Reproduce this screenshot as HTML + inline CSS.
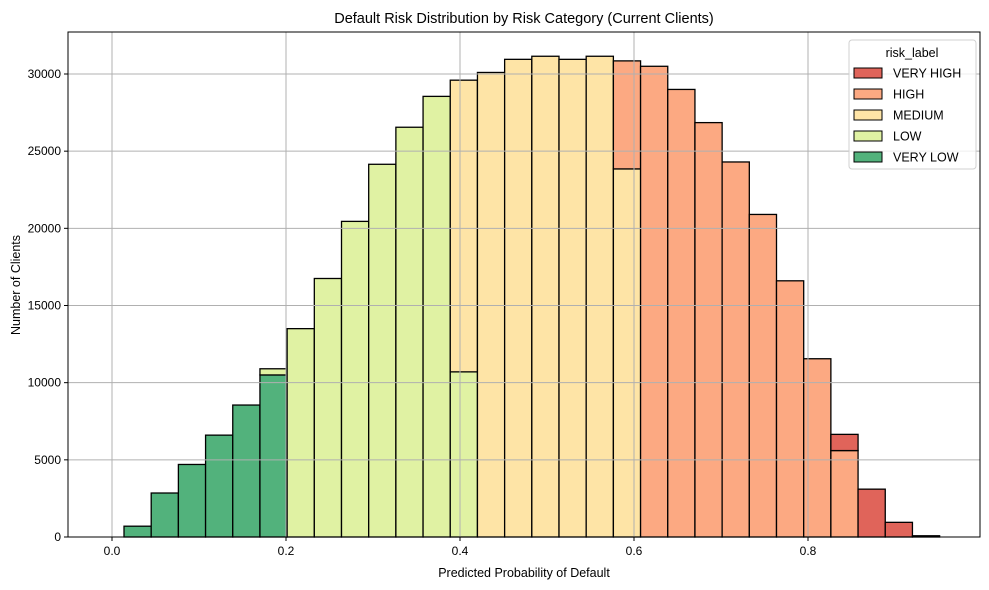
<!DOCTYPE html>
<html><head><meta charset="utf-8"><style>
body{margin:0;background:#fff;}
svg{display:block;font-family:"Liberation Sans","DejaVu Sans",sans-serif;}
</style></head><body>
<svg id="chart" width="989" height="590"></svg>
<script>
const binStart = 0.0138;
const binWidth = 0.03125;
const veryLow = [700,2850,4700,6600,8550,10500,0,0,0,0,0,0,0,0,0,0,0,0,0,0,0,0,0,0,0,0,0,0,0,0];
const low = [0,0,0,0,0,400,13500,16750,20450,24150,26550,28550,10700,0,0,0,0,0,0,0,0,0,0,0,0,0,0,0,0,0];
const medium = [0,0,0,0,0,0,0,0,0,0,0,0,18900,30100,30950,31150,30950,31150,23850,0,0,0,0,0,0,0,0,0,0,0];
const high = [0,0,0,0,0,0,0,0,0,0,0,0,0,0,0,0,0,0,7000,30500,29000,26850,24300,20900,16600,11550,5600,0,0,0];
const veryHigh = [0,0,0,0,0,0,0,0,0,0,0,0,0,0,0,0,0,0,0,0,0,0,0,0,0,0,1050,3100,950,80];
const xTicks = [0,0.2,0.4,0.6,0.8];
const xTickLabels = ["0.0","0.2","0.4","0.6","0.8"];
const yTicks = [0,5000,10000,15000,20000,25000,30000];
const seriesNames = ["VERY HIGH","HIGH","MEDIUM","LOW","VERY LOW"];

const NS="http://www.w3.org/2000/svg";
const svg=document.getElementById('chart');
const L=68,R=980,T=32,B=537;
const x=v=>112+v*870;
const y=v=>B-v*(463/30000);
function el(tag,attrs,parent){const e=document.createElementNS(NS,tag);for(const k in attrs)e.setAttribute(k,attrs[k]);(parent||svg).appendChild(e);return e;}

// bars
const stack=[[veryLow,'#52b27c','very-low'],[low,'#e0f2a3','low'],[medium,'#fee4a6','medium'],[high,'#fca982','high'],[veryHigh,'#e0645a','very-high']];
const bw=binWidth*870;
for(let i=0;i<veryLow.length;i++){
  let base=0;
  const x0=x(binStart+i*binWidth);
  stack.forEach(([arr,col,nm])=>{
    const v=arr[i];
    if(v>0){
      const r=el('rect',{x:x0,y:y(base+v),width:bw,height:y(base)-y(base+v),fill:col,stroke:'#000','stroke-width':1.3});
      
      
      base+=v;
    }
  });
}

// grid (drawn over bars)
xTicks.forEach((t,i)=>{
  const g=el('line',{x1:x(t),x2:x(t),y1:T,y2:B,stroke:'#b0b0b0','stroke-width':1});
  
  
});
yTicks.forEach(t=>{
  const g=el('line',{x1:L,x2:R,y1:y(t),y2:y(t),stroke:'#b0b0b0','stroke-width':1});
  
  
});

// axes frame
const fr=el('rect',{x:L,y:T,width:R-L,height:B-T,fill:'none',stroke:'#000','stroke-width':1});



xTicks.forEach((t,i)=>{
  el('line',{x1:x(t),x2:x(t),y1:B,y2:B+4,stroke:'#000'});
  const tx=el('text',{x:x(t),y:B+18,'text-anchor':'middle','font-size':12});
  tx.textContent=xTickLabels[i];
  
  
});
yTicks.forEach(t=>{
  el('line',{x1:L-4,x2:L,y1:y(t),y2:y(t),stroke:'#000'});
  const tx=el('text',{x:L-7,y:y(t)+4,'text-anchor':'end','font-size':12});
  tx.textContent=String(t);
  
  
});

let t=el('text',{x:(L+R)/2,y:23,'text-anchor':'middle','font-size':14.5});
t.textContent='Default Risk Distribution by Risk Category (Current Clients)';


t=el('text',{x:(L+R)/2,y:577,'text-anchor':'middle','font-size':12.5});
t.textContent='Predicted Probability of Default';


t=el('text',{x:0,y:0,'text-anchor':'middle','font-size':12.5,transform:'translate(20,285) rotate(-90)'});
t.textContent='Number of Clients';



// legend
const lg=el('g',{});


el('rect',{x:849,y:40,width:127,height:129,rx:3,fill:'#fff','fill-opacity':0.8,stroke:'#d0d0d0'},lg);
t=el('text',{x:912,y:57,'text-anchor':'middle','font-size':12.5},lg);
t.textContent='risk_label';


const legCols=['#e0645a','#fca982','#fee4a6','#e0f2a3','#52b27c'];
seriesNames.forEach((n,i)=>{
  const yy=73+i*21;
  const g=el('g',{},lg);
  
  
  el('rect',{x:854,y:yy-5,width:28,height:10,fill:legCols[i],stroke:'#000','stroke-width':1},g);
  const tx=el('text',{x:893,y:yy+4.5,'font-size':12.5},g);
  tx.textContent=n;
});
</script>
</body></html>
